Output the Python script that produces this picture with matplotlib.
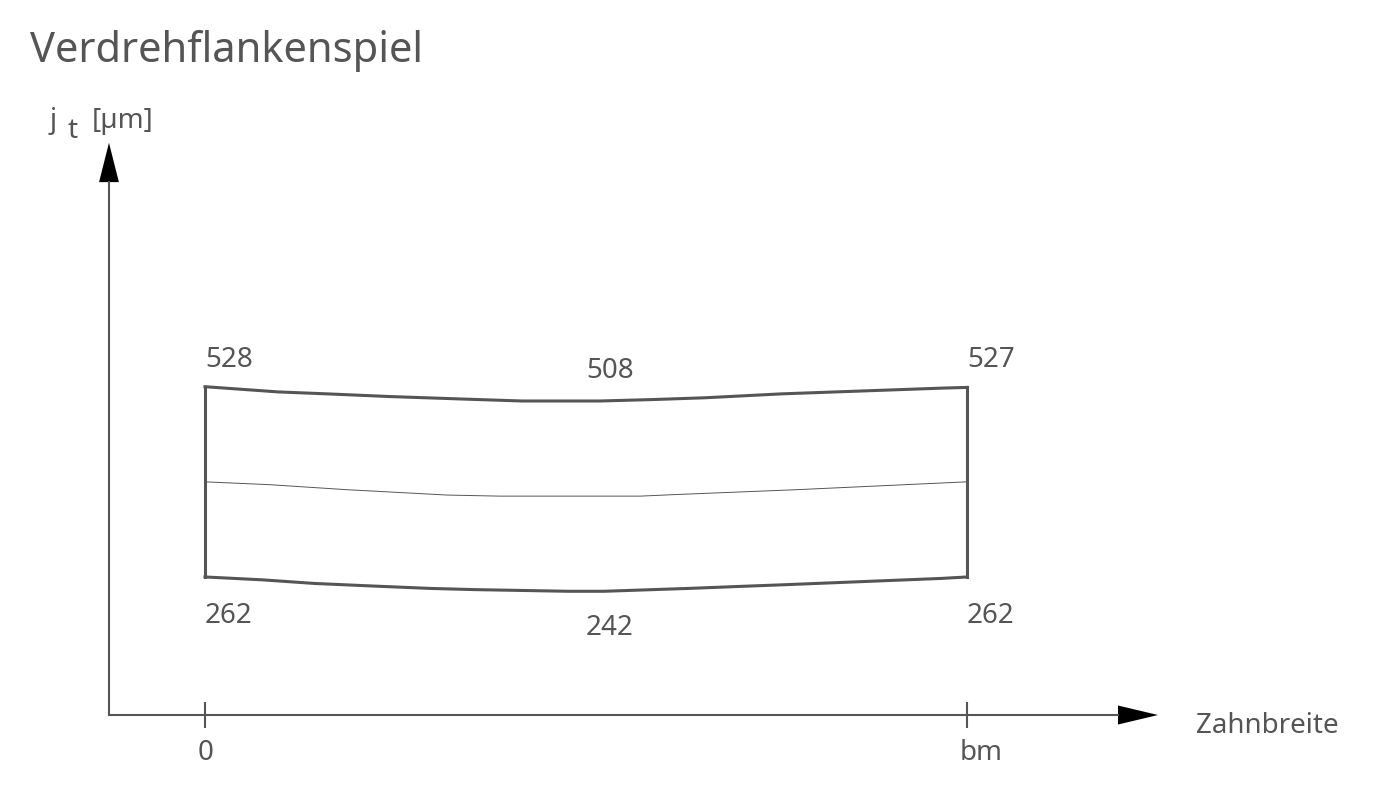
import numpy as np
import matplotlib
matplotlib.use('Agg')
import matplotlib.pyplot as plt
from matplotlib.transforms import ScaledTranslation

plt.rcParams['font.family'] = ['Noto Sans', 'DejaVu Sans']

# Werte (x als Anteil der Zahnbreite bm)
x_upper = [0.0, 0.096, 0.164, 0.243, 0.345, 0.416, 0.518, 0.587, 0.656, 0.757, 0.967, 1.0]
y_upper = [528, 520.7, 517.8, 514.2, 510.5, 508, 508, 510, 512.5, 518, 526, 527]

x_lower = [0.0, 0.075, 0.144, 0.219, 0.295, 0.354, 0.476, 0.524, 0.635, 0.707, 0.757, 0.967, 1.0]
y_lower = [262, 258, 252.9, 249.4, 246, 244.3, 242, 242, 246, 249, 251, 260, 262]

x_mid = [0.0, 0.085, 0.186, 0.318, 0.387, 0.571, 0.613, 0.776, 1.0]
y_mid = [395, 391, 384, 376.5, 375, 375, 377, 384, 395]

# Beschriftungen: (x, y, text, ha, dy in Pixel)
labels = [
    (0.0, 528, '528', 'left', 20),
    (0.531, 508, '508', 'center', 23),
    (1.0, 527, '527', 'left', 20),
    (0.0, 262, '262', 'left', -46),
    (0.531, 242, '242', 'center', -44),
    (1.0, 262, '262', 'left', -46),
]
tick_pos = [0, 1]
tick_text = ['0', 'bm']

grey = '#555555'
W, H = 1387, 805

fig = plt.figure(figsize=(W / 100, H / 100), dpi=100)
ax = fig.add_axes([0, 0, 1, 1])
ax.set_xlim(-0.269, 1.551)
ax.set_ylim(-56.8, 1068.6)
ax.set_facecolor('white')

# Kurven
ax.plot(x_upper, y_upper, color=grey, lw=2.2, solid_joinstyle='miter')
ax.plot(x_lower, y_lower, color=grey, lw=2.2, solid_joinstyle='miter')
ax.plot(x_mid, y_mid, color=grey, lw=0.7)
ax.plot([x_upper[0], x_lower[0]], [y_upper[0], y_lower[0]], color=grey, lw=2.2)
ax.plot([x_upper[-1], x_lower[-1]], [y_upper[-1], y_lower[-1]], color=grey, lw=2.2)

for x, y, t, ha, dy in labels:
    ax.annotate(t, xy=(x, y), xytext=(0, dy), textcoords='offset pixels',
                ha=ha, va='baseline', fontsize=20, color=grey)

# Achsen als Pfeile
x0, y0 = -0.126, 69
x_end, y_end = 1.198, 814
for s in ['top', 'right']:
    ax.spines[s].set_visible(False)
ax.spines['left'].set_position(('data', x0))
ax.spines['bottom'].set_position(('data', y0))
ax.spines['left'].set_bounds(y0, y_end)
ax.spines['bottom'].set_bounds(x0, x_end)
for s in ['left', 'bottom']:
    ax.spines[s].set_color(grey)
    ax.spines[s].set_linewidth(1.5)
ax.arrow(x_end, y0, 0.0525, 0, width=0, head_width=26.6, head_length=0.0525,
         length_includes_head=True, color='black', lw=0)
ax.arrow(x0, y_end, 0, 55, width=0, head_width=0.026, head_length=55,
         length_includes_head=True, color='black', lw=0)

ax.set_yticks([])
ax.set_xticks(tick_pos, tick_text)
ax.tick_params(axis='x', direction='inout', length=19, width=1.5, color=grey,
               labelsize=20, labelcolor=grey, pad=8)
offset = ScaledTranslation(-7 / 100, 0, fig.dpi_scale_trans)
for lab in ax.get_xticklabels():
    lab.set_horizontalalignment('left')
    lab.set_transform(lab.get_transform() + offset)

fig.text(1196 / W, 1 - 733 / H, 'Zahnbreite', fontsize=20, color=grey, va='baseline')
fig.text(30 / W, 1 - 62 / H, 'Verdrehflankenspiel', fontsize=30, color=grey, va='baseline')
fig.text(50 / W, 1 - 128 / H, 'j', fontsize=20, color=grey, va='baseline')
fig.text(67 / W, 1 - 138 / H, 't', fontsize=20, color=grey, va='baseline')
fig.text(92 / W, 1 - 128 / H, '[µm]', fontsize=20, color=grey, va='baseline')

fig.savefig('out.png', dpi=100, facecolor='white')
